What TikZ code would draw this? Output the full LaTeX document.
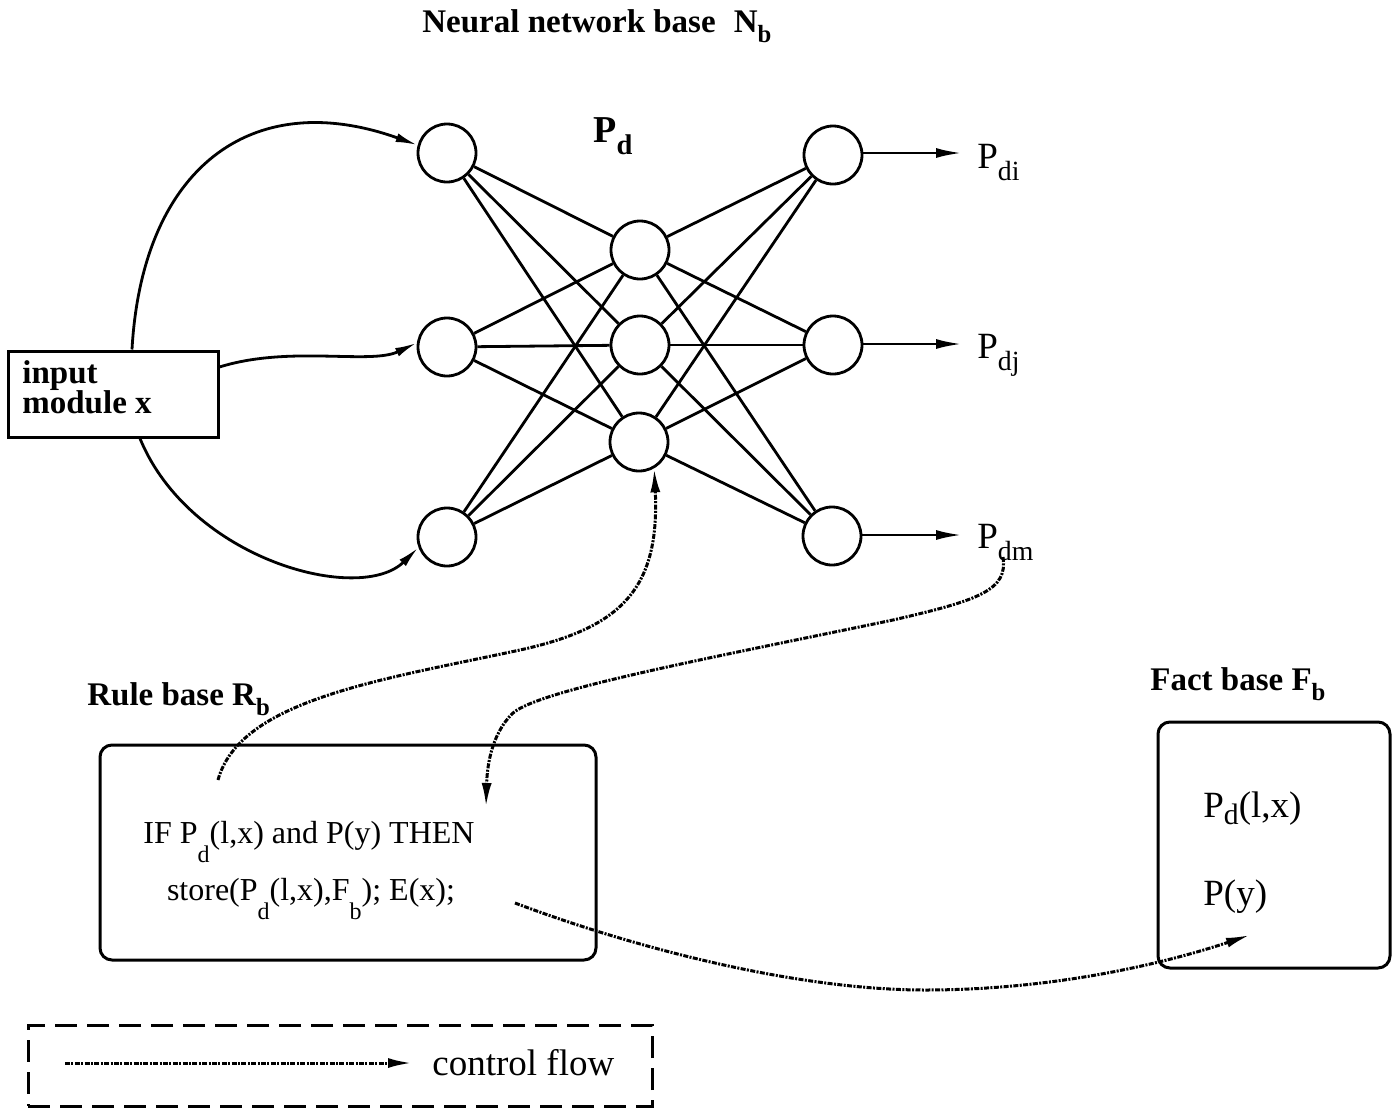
\documentclass[tikz,border=0pt]{standalone}
\usepackage{fontspec}
\setmainfont{Liberation Serif}
\usepackage{graphicx}
\usetikzlibrary{arrows.meta}
\newcommand\sbA[1]{\raisebox{-0.33em}{\scalebox{0.75}{#1}}}
\newcommand\sbB[1]{\raisebox{-0.6em}{\scalebox{0.75}{#1}}}
\newcommand\sbC[1]{\raisebox{-0.2em}{\scalebox{0.8}{#1}}}
\begin{document}
\begin{tikzpicture}[x=0.5pt,y=-0.5pt,
  neuron/.style={circle,draw,line width=1.4pt,minimum size=29pt,inner sep=0pt},
  bt/.style={inner sep=0pt,font=\fontsize{16.5}{15}\selectfont\bfseries},
  rt/.style={inner sep=0pt,font=\fontsize{18.5}{20}\selectfont},
  rts/.style={inner sep=0pt,font=\fontsize{16}{18}\selectfont},
  edge/.style={line width=1.4pt},
  arr/.style={line width=1.4pt,-{Latex[length=13pt,width=5pt]}},
  cflow/.style={line width=1.5pt,dash pattern=on 2.5pt off 0.7pt on 1pt off 0.7pt,-{Latex[length=12pt,width=5pt]}},
  box/.style={draw,line width=1.5pt,rounded corners=6pt}]
\useasboundingbox (0,0) rectangle (1399,1109);

% titles
\node[bt,anchor=base west] (title) at (422,32) {Neural network base\hspace{0.3em} N\sbA{b}};
\node[bt,anchor=base west,font=\fontsize{19}{20}\selectfont\bfseries] (pdlab) at (593,142) {P\sbA{d}};

% input module
\node[draw,line width=1.5pt,minimum width=105pt,minimum height=43pt,inner sep=0pt] (inp) at (113,394) {};
\node[bt,anchor=base west] (inpt1) at (22,383) {input};
\node[bt,anchor=base west] (inpt2) at (22,413) {module x};

% neurons
\node[neuron] (in1) at (447,153) {};
\node[neuron] (in2) at (447,347) {};
\node[neuron] (in3) at (447,537) {};
\node[neuron] (h1) at (640,250) {};
\node[neuron] (h2) at (640,345) {};
\node[neuron] (h3) at (639,442) {};
\node[neuron] (o1) at (833,155) {};
\node[neuron] (o2) at (833,345) {};
\node[neuron] (o3) at (832,536) {};

\foreach \a in {in1,in2,in3}{\foreach \b in {h1,h2,h3}{\draw[edge] (\a) -- (\b);}}
\foreach \a in {h1,h2,h3}{\foreach \b in {o1,o2,o3}{\draw[edge] (\a) -- (\b);}}

% outputs
\node[rt,anchor=base west] (pdi) at (977,168) {P\sbA{di}};
\node[rt,anchor=base west] (pdj) at (977,358) {P\sbA{dj}};
\node[rt,anchor=base west] (pdm) at (977,548) {P\sbA{dm}};
\coordinate (e1) at (962,153);
\coordinate (e2) at (962,344);
\coordinate (e3) at (962,535);
\draw[arr] (o1.east |- e1) -- (e1);
\draw[arr] (o2.east |- e2) -- (e2);
\draw[arr] (o3.east |- e3) -- (e3);

% input curves
\draw[arr,-{Latex[length=11pt,width=4.5pt]}] (inp.north -| 132,0) .. controls (142,170) and (250,85) .. (in1.165);
\draw[arr,-{Latex[length=11pt,width=4.5pt]}] (inp.east |- 0,367) .. controls (290,345) and (370,365) .. (in2.172);
\draw[arr,-{Latex[length=11pt,width=4.5pt]}] (inp.south -| 140,0) .. controls (190,560) and (360,605) .. (in3.200);

% rule base
\node[bt,anchor=base west] (rblab) at (87,705) {Rule base R\sbA{b}};
\node[box,minimum width=248pt,minimum height=107.5pt,inner sep=0pt] (rule) at (348,852.5) {};
\node[rts,anchor=base] (rl1) at (309,843) {IF P\sbB{d}(l,x) and P(y) THEN};
\node[rts,anchor=base] (rl2) at (311,900) {store(P\sbB{d}(l,x),F\sbB{b}); E(x);};

% fact base
\node[bt,anchor=base west] (fblab) at (1150,690) {Fact base F\sbA{b}};
\node[box,minimum width=116pt,minimum height=123pt,inner sep=0pt] (fact) at (1274,845) {};
\node[rt,anchor=base west] (f1) at (1203,817) {P\sbC{d}(l,x)};
\node[rt,anchor=base west] (f2) at (1203,905) {P(y)};

% control flow curves
\coordinate (c1s) at (218,780);
\draw[cflow] (c1s) .. controls (240,700) and (380,680) .. (520,650)
   .. controls (620,628) and (660,590) .. (h3.-60);
\coordinate (c2s) at (1003,557);
\coordinate (c2e) at (486,807);
\draw[cflow] (c2s) .. controls (1008,590) and (980,600) .. (893,620)
   .. controls (700,660) and (540,690) .. (513,713)
   .. controls (490,735) and (487,770) .. (c2e);
\coordinate (c3s) at (515,903);
\coordinate (c3e) at (1250,935);
\draw[cflow] (c3s) .. controls (640,950) and (800,990) .. (925,990)
   .. controls (1050,990) and (1160,965) .. (c3e);

% legend
\node[draw,line width=1.5pt,dash pattern=on 11pt off 5pt,minimum width=312pt,minimum height=40.5pt,inner sep=0pt] (leg) at (340,1065.5) {};
\coordinate (l1) at (65,1063);
\coordinate (l2) at (412,1063);
\node[rt,anchor=base west] (cf) at (432,1075) {control flow};
\draw[cflow] (l1) -- (l2);
\end{tikzpicture}
\end{document}
